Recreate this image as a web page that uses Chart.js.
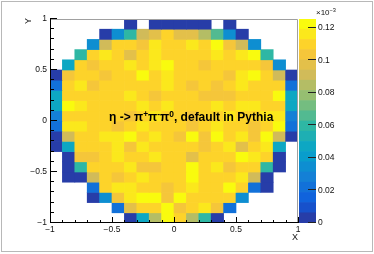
<!DOCTYPE html>
<html>
<head>
<meta charset="utf-8">
<script src="https://cdn.jsdelivr.net/npm/chart.js@4.4.0/dist/chart.umd.min.js"></script>
<style>
  html, body { margin: 0; padding: 0; background: #fff; }
  #wrap { position: relative; width: 374px; height: 254px; overflow: hidden;
          font-family: "Liberation Sans", Arial, sans-serif; }
  canvas { position: absolute; left: 0; top: 0; }
  #border { position: absolute; left: 1px; top: 1px; width: 372px; height: 251px;
            box-sizing: border-box; border: 1px solid #b8b8b8; }
  .lbl { position: absolute; color: #111; font-size: 9px; line-height: 10px; white-space: nowrap; }
  #title { position: absolute; left: 109px; top: 111px; font-weight: bold; font-size: 12px;
           line-height: 12px; color: #000; white-space: nowrap; }
  sup { font-size: 0.7em; vertical-align: 0.5em; line-height: 0; }
</style>
</head>
<body>
<div id="wrap">
  <canvas id="plot" width="374" height="254"></canvas>
  <canvas id="palette" width="374" height="254"></canvas>
  <div id="border"></div>
  <div class="lbl" id="ytitle" style="left:25px; top:16px; transform: rotate(-90deg);">Y</div>
  <div class="lbl" id="xtitle" style="left:292px; top:232px;">X</div>
  <div class="lbl" id="zexp" style="left:316px; top:8px; font-size:8px;">×10<sup>−3</sup></div>
  <div id="title">η -&gt; π<sup>+</sup>π<sup>-</sup>π<sup>0</sup>, default in Pythia</div>
</div>
<script>
// bin centres of the 20x20 histogram
const xCenters = [-0.95, -0.85, -0.75, -0.65, -0.55, -0.45, -0.35, -0.25, -0.15, -0.05,
                  0.05, 0.15, 0.25, 0.35, 0.45, 0.55, 0.65, 0.75, 0.85, 0.95];
const yCenters = [0.95, 0.85, 0.75, 0.65, 0.55, 0.45, 0.35, 0.25, 0.15, 0.05,
                  -0.05, -0.15, -0.25, -0.35, -0.45, -0.55, -0.65, -0.75, -0.85, -0.95];

// bin contents (x10^-3), one array per y row, top to bottom
const z_p095 = [null, null, null, null, null, null, 0.003, null, 0.003, 0.003, 0.003, 0.003, 0.003, null, 0.003, null, null, null, null, null];
const z_p085 = [null, null, null, null, 0.003, 0.032, 0.06, 0.091, 0.097, 0.11, 0.097, 0.097, 0.085, 0.066, 0.033, 0.003, null, null, null, null];
const z_p075 = [null, null, null, 0.036, 0.091, 0.11, 0.11, 0.104, 0.116, 0.11, 0.11, 0.116, 0.11, 0.122, 0.104, 0.091, 0.036, null, null, null];
const z_p065 = [null, null, 0.06, 0.11, 0.116, 0.11, 0.097, 0.11, 0.116, 0.11, 0.11, 0.11, 0.11, 0.116, 0.11, 0.116, 0.122, 0.058, null, null];
const z_p055 = [null, 0.045, 0.11, 0.104, 0.11, 0.11, 0.116, 0.11, 0.116, 0.122, 0.11, 0.11, 0.104, 0.11, 0.11, 0.11, 0.11, 0.104, 0.036, null];
const z_p045 = [0.003, 0.104, 0.11, 0.11, 0.104, 0.11, 0.11, 0.122, 0.11, 0.116, 0.11, 0.11, 0.11, 0.11, 0.104, 0.116, 0.122, 0.11, 0.091, 0.003];
const z_p035 = [0.024, 0.11, 0.116, 0.104, 0.11, 0.11, 0.11, 0.11, 0.11, 0.116, 0.11, 0.104, 0.11, 0.104, 0.11, 0.116, 0.11, 0.11, 0.11, 0.024];
const z_p025 = [0.047, 0.11, 0.11, 0.11, 0.11, 0.11, 0.116, 0.11, 0.104, 0.11, 0.11, 0.11, 0.104, 0.104, 0.104, 0.11, 0.11, 0.11, 0.122, 0.047];
const z_p015 = [0.045, 0.122, 0.116, 0.11, 0.11, 0.11, 0.11, 0.116, 0.11, 0.116, 0.11, 0.11, 0.11, 0.116, 0.11, 0.116, 0.116, 0.11, 0.11, 0.045];
const z_p005 = [0.03, 0.11, 0.11, 0.11, 0.11, 0.11, 0.104, 0.11, 0.116, 0.11, 0.11, 0.104, 0.11, 0.11, 0.116, 0.11, 0.11, 0.116, 0.116, 0.03];
const z_m005 = [0.024, 0.116, 0.116, 0.11, 0.11, 0.104, 0.11, 0.116, 0.11, 0.11, 0.11, 0.104, 0.11, 0.116, 0.11, 0.11, 0.104, 0.11, 0.122, 0.024];
const z_m015 = [0.003, 0.091, 0.11, 0.11, 0.116, 0.116, 0.122, 0.11, 0.116, 0.11, 0.104, 0.122, 0.104, 0.122, 0.11, 0.116, 0.104, 0.122, 0.091, 0.003];
const z_m025 = [0.003, 0.047, 0.11, 0.11, 0.11, 0.116, 0.104, 0.116, 0.11, 0.11, 0.11, 0.11, 0.104, 0.11, 0.116, 0.097, 0.11, 0.116, 0.047, null];
const z_m035 = [null, 0.003, 0.104, 0.104, 0.11, 0.116, 0.11, 0.11, 0.116, 0.11, 0.11, 0.097, 0.11, 0.11, 0.11, 0.122, 0.116, 0.11, 0.003, null];
const z_m045 = [null, 0.003, 0.058, 0.11, 0.11, 0.11, 0.116, 0.104, 0.104, 0.11, 0.11, 0.122, 0.11, 0.116, 0.104, 0.11, 0.11, 0.058, 0.003, null];
const z_m055 = [null, 0.003, 0.003, 0.091, 0.11, 0.104, 0.11, 0.116, 0.11, 0.11, 0.11, 0.122, 0.11, 0.11, 0.11, 0.116, 0.091, 0.003, null, null];
const z_m065 = [null, null, null, 0.02, 0.11, 0.116, 0.116, 0.11, 0.11, 0.104, 0.11, 0.116, 0.11, 0.11, 0.122, 0.11, 0.022, 0.003, null, null];
const z_m075 = [null, null, null, 0.003, 0.034, 0.104, 0.116, 0.122, 0.122, 0.104, 0.122, 0.11, 0.11, 0.11, 0.11, 0.034, null, null, null, null];
const z_m085 = [null, null, null, null, null, 0.025, 0.097, 0.11, 0.11, 0.122, 0.104, 0.11, 0.116, 0.104, 0.024, null, null, null, null, null];
const z_m095 = [null, null, null, null, null, null, 0.003, 0.047, 0.085, 0.122, 0.11, 0.085, 0.06, 0.003, null, null, null, null, null, null];

const zRows = [z_p095, z_p085, z_p075, z_p065, z_p055, z_p045, z_p035, z_p025, z_p015, z_p005,
               z_m005, z_m015, z_m025, z_m035, z_m045, z_m055, z_m065, z_m075, z_m085, z_m095];

const zMax = 0.1253;   // top of the colour scale
const nLevels = 20;    // contour levels of the palette
const binHalf = 0.05;

const FONT = "'Liberation Sans', Arial, sans-serif";

// ROOT kBird palette
const birdR = [0.2082, 0.0592, 0.0780, 0.0232, 0.1802, 0.5301, 0.8186, 0.9956, 0.9764];
const birdG = [0.1664, 0.3599, 0.5041, 0.6419, 0.7178, 0.7492, 0.7328, 0.7862, 0.9832];
const birdB = [0.5293, 0.8684, 0.8385, 0.7914, 0.6425, 0.4662, 0.3499, 0.1968, 0.0539];

function bird(t) {
  const s = Math.min(Math.max(t, 0), 1) * 8;
  const i = Math.min(Math.floor(s), 7);
  const f = s - i;
  const c = a => Math.round(255 * (a[i] + (a[i + 1] - a[i]) * f));
  return `rgb(${c(birdR)},${c(birdG)},${c(birdB)})`;
}

function levelColor(level) {
  const idx = Math.floor((level + 0.99) * 255 / nLevels);
  return bird(idx / 254);
}

function cellColor(v) {
  let k = Math.floor(v / zMax * nLevels);
  k = Math.min(Math.max(k, 0), nLevels - 1);
  return levelColor(k);
}

function fmt(v) {
  const r = Math.round(v * 100) / 100;
  return r < 0 ? '\u2212' + Math.abs(r) : String(r);
}

// one floating-bar dataset per y row
const cellSets = zRows.map((row, r) => {
  const pts = [];
  row.forEach((v, i) => {
    if (v === null) return;
    pts.push({ x: xCenters[i], y: [yCenters[r] - binHalf, yCenters[r] + binHalf], v: v });
  });
  return {
    data: pts,
    backgroundColor: pts.map(p => cellColor(p.v)),
    borderWidth: 0,
    grouped: false,
    barPercentage: 1,
    categoryPercentage: 1
  };
});

const frameTicks = {
  id: 'frameTicks',
  afterDatasetsDraw(chart) {
    const { ctx, chartArea: a, scales: { x, y } } = chart;
    ctx.save();
    ctx.lineWidth = 1;
    ctx.strokeStyle = '#a0a0a0';
    ctx.beginPath();
    ctx.moveTo(a.left, a.top + 0.5);
    ctx.lineTo(a.right - 0.5, a.top + 0.5);
    ctx.lineTo(a.right - 0.5, a.bottom);
    ctx.stroke();
    ctx.strokeStyle = '#000';
    ctx.beginPath();
    ctx.moveTo(a.left + 0.5, a.top);
    ctx.lineTo(a.left + 0.5, a.bottom - 0.5);
    ctx.lineTo(a.right, a.bottom - 0.5);
    // inward major / minor ticks every 0.1
    for (let k = -10; k <= 10; k++) {
      const v = k / 10;
      const major = k % 5 === 0;
      const py = Math.round(y.getPixelForValue(v)) - 0.5;
      ctx.moveTo(a.left, py);
      ctx.lineTo(a.left + (major ? 7 : 4), py);
      const px = Math.round(x.getPixelForValue(v)) + 0.5;
      ctx.moveTo(px, a.bottom);
      ctx.lineTo(px, a.bottom - (major ? 6 : 3));
    }
    ctx.stroke();
    ctx.restore();
  }
};

new Chart(document.getElementById('plot'), {
  type: 'bar',
  data: { datasets: cellSets },
  options: {
    responsive: false,
    animation: false,
    devicePixelRatio: 1,
    layout: { padding: { left: 0, top: 19, right: 76, bottom: 0 } },
    plugins: { legend: { display: false }, tooltip: { enabled: false } },
    scales: {
      x: {
        type: 'linear', min: -1, max: 1, offset: false,
        grid: { display: false, drawTicks: false, offset: false }, border: { display: false },
        ticks: { stepSize: 0.5, autoSkip: false, maxRotation: 0, padding: 2, color: '#111',
                 font: { family: FONT, size: 8.5 }, callback: v => fmt(v) },
        afterFit: s => { s.height = 31; s.paddingLeft = 0; s.paddingRight = 0; }
      },
      y: {
        type: 'linear', min: -1, max: 1,
        grid: { display: false, drawTicks: false }, border: { display: false },
        ticks: { stepSize: 0.5, autoSkip: false, padding: 3, color: '#111',
                 font: { family: FONT, size: 8.5 }, callback: v => fmt(v) },
        afterFit: s => { s.width = 50; s.paddingTop = 0; s.paddingBottom = 0; }
      }
    }
  },
  plugins: [frameTicks]
});

// colour scale
const levelSets = [];
for (let k = 0; k < nLevels; k++) {
  levelSets.push({
    data: [zMax / nLevels],
    backgroundColor: levelColor(k),
    borderWidth: 0,
    barPercentage: 1,
    categoryPercentage: 1
  });
}

const paletteTicks = {
  id: 'paletteTicks',
  afterDatasetsDraw(chart) {
    const { ctx, chartArea: a, scales: { y } } = chart;
    ctx.save();
    ctx.strokeStyle = '#222';
    ctx.lineWidth = 1;
    ctx.beginPath();
    y.ticks.forEach(t => {
      const py = Math.round(y.getPixelForValue(t.value)) - 0.5;
      ctx.moveTo(a.right - 8, py);
      ctx.lineTo(a.right, py);
    });
    ctx.stroke();
    ctx.restore();
  }
};

new Chart(document.getElementById('palette'), {
  type: 'bar',
  data: { labels: [''], datasets: levelSets },
  options: {
    responsive: false,
    animation: false,
    devicePixelRatio: 1,
    layout: { padding: { left: 299, top: 19, right: 0, bottom: 31 } },
    plugins: { legend: { display: false }, tooltip: { enabled: false } },
    scales: {
      x: { stacked: true, display: false },
      y: {
        stacked: true, position: 'right', min: 0, max: zMax,
        grid: { display: false, drawTicks: false }, border: { display: false },
        ticks: { stepSize: 0.02, includeBounds: false, padding: 2, color: '#111',
                 font: { family: FONT, size: 8.5 }, callback: v => fmt(v) },
        afterFit: s => { s.width = 58; s.paddingTop = 0; s.paddingBottom = 0; }
      }
    }
  },
  plugins: [paletteTicks]
});
</script>
</body>
</html>
